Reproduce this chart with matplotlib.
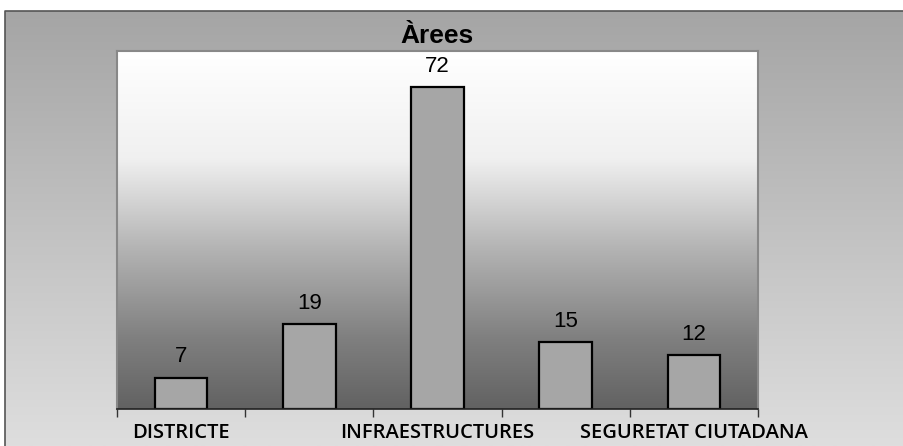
import matplotlib
matplotlib.use("Agg")
import matplotlib.pyplot as plt
import numpy as np
from matplotlib.colors import LinearSegmentedColormap

categories = ["DISTRICTE", "", "INFRAESTRUCTURES", "", "SEGURETAT CIUTADANA"]
values = [7, 19, 72, 15, 12]
title = "Àrees"

W, H = 904, 446
fig = plt.figure(figsize=(W / 100, H / 100), dpi=100)

# outer background
bg = fig.add_axes([0, 0, 1, 1], zorder=0)
bg.set_xlim(0, W)
bg.set_ylim(H, 0)
bg.axis("off")
outer_cmap = LinearSegmentedColormap.from_list("outer", ["#a5a5a5", "#dedede"])
grad = np.linspace(0, 1, 256).reshape(-1, 1)
bg.imshow(grad, cmap=outer_cmap, extent=[5, W, H, 11], aspect="auto", zorder=0)
bg.plot([5, 5, W], [H, 11, 11], color="#555555", lw=1.2, zorder=1)

# plot area
x0, x1, ytop, ybot = 117, 758, 51, 409
ax = fig.add_axes([x0 / W, (H - ybot) / H, (x1 - x0) / W, (ybot - ytop) / H], zorder=1)
ymax = 80
inner_cmap = LinearSegmentedColormap.from_list(
    "inner", [(0, "#ffffff"), (0.3, "#f0f0f0"), (0.55, "#b4b4b4"), (0.8, "#808080"), (1, "#626262")])
ax.imshow(grad, cmap=inner_cmap, extent=[-0.5, len(values) - 0.5, 0, ymax], aspect="auto", zorder=0)

xs = np.arange(len(values))
ax.bar(xs, values, width=0.41, color="#a6a6a6", edgecolor="black", linewidth=1.6, zorder=2)
for x, v in zip(xs, values):
    ax.text(x, v + 3.4, str(v), ha="center", va="baseline", fontsize=16,
            family="Liberation Sans", color="black", zorder=3)

ax.set_xlim(-0.5, len(values) - 0.5)
ax.set_ylim(0, ymax)
ax.set_yticks([])
ax.set_xticks(np.arange(-0.5, len(values), 1.0))
ax.set_xticklabels([])
ax.tick_params(axis="x", which="major", direction="out", length=6, width=1, color="#333333")
ax.set_xticks(xs, minor=True)
ax.set_xticklabels(categories, minor=True)
ax.tick_params(axis="x", which="minor", length=0, pad=10)
for lab in ax.get_xticklabels(minor=True):
    lab.set_family("Open Sans")
    lab.set_fontweight("semibold")
    lab.set_fontsize(14.5)
    lab.set_color("black")

for s in ["top", "right", "left"]:
    ax.spines[s].set_color("#888888")
    ax.spines[s].set_linewidth(1.5)
ax.spines["bottom"].set_color("#222222")
ax.spines["bottom"].set_linewidth(1.2)

fig.text((x0 + x1) / 2 / W, 1 - 43 / H, title, ha="center", va="baseline",
         fontsize=19, fontweight="bold", family="Liberation Sans")

fig.savefig("out.png", dpi=100)
